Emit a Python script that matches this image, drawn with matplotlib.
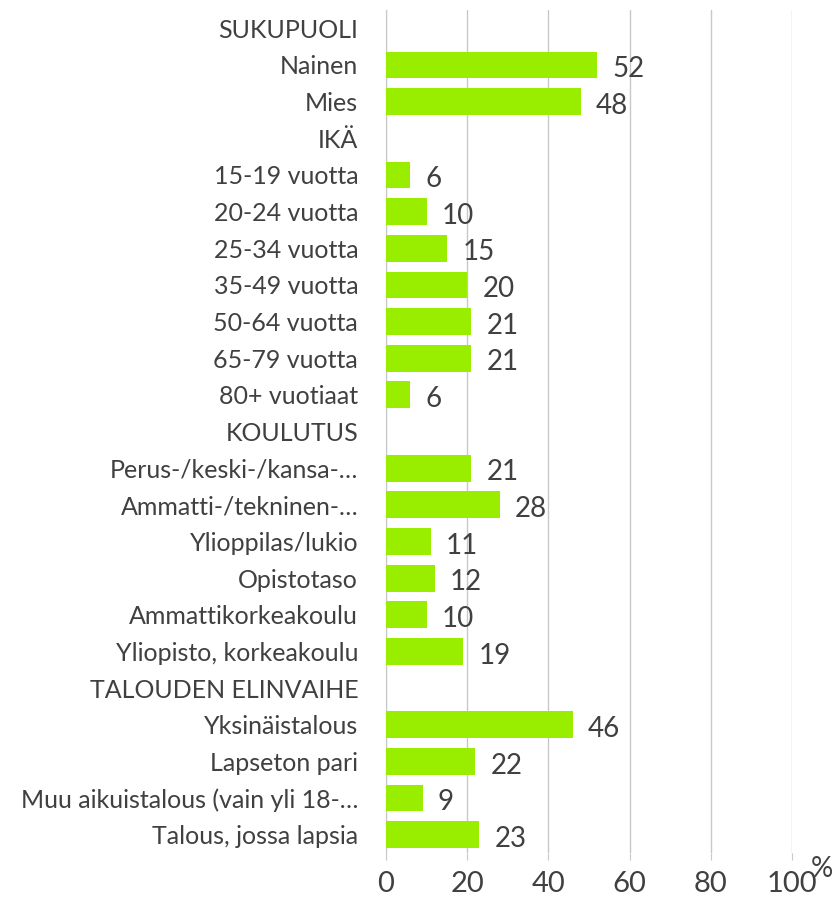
import matplotlib
matplotlib.use("Agg")
import matplotlib.pyplot as plt

categories = [
    "SUKUPUOLI", "Nainen", "Mies",
    "IKÄ", "15-19 vuotta", "20-24 vuotta", "25-34 vuotta", "35-49 vuotta",
    "50-64 vuotta", "65-79 vuotta", "80+ vuotiaat",
    "KOULUTUS", "Perus-/keski-/kansa-…", "Ammatti-/tekninen-…",
    "Ylioppilas/lukio", "Opistotaso", "Ammattikorkeakoulu", "Yliopisto, korkeakoulu",
    "TALOUDEN ELINVAIHE", "Yksinäistalous", "Lapseton pari",
    "Muu aikuistalous (vain yli 18-…", "Talous, jossa lapsia",
]
values = [
    None, 52, 48,
    None, 6, 10, 15, 20, 21, 21, 6,
    None, 21, 28, 11, 12, 10, 19,
    None, 46, 22, 9, 23,
]
xticks = [0, 20, 40, 60, 80, 100]

text_color = "#404040"
grid_color = "#C8C8C8"
bar_color = "#99EE00"

plt.rcParams["font.family"] = ["Lato", "DejaVu Sans"]

fig = plt.figure(figsize=(8.35, 9.07), dpi=100)
ax = fig.add_axes([0.4623, 0.0595, 0.4862, 0.9295])

ys = list(range(len(categories)))
for y, v in zip(ys, values):
    if v is None:
        continue
    ax.barh(y, v, height=0.73, color=bar_color, zorder=3)
    ax.annotate(str(v), xy=(v, y), xytext=(11, -3), textcoords="offset points",
                va="center", ha="left", fontsize=20, color=text_color)

ax.set_ylim(len(categories) - 0.5, -0.5)
ax.set_xlim(0, 100)
ax.set_yticks(ys)
ax.set_yticklabels(categories, fontsize=18, color=text_color)
ax.tick_params(axis="y", length=0, pad=20)
ax.set_xticks(xticks)
ax.set_xticklabels([str(t) for t in xticks], fontsize=21, color=text_color)
ax.tick_params(axis="x", length=5, color=grid_color, pad=8)

ax.grid(axis="x", color=grid_color, linewidth=1, zorder=0)
for s in ["top", "right", "bottom"]:
    ax.spines[s].set_visible(False)
ax.spines["left"].set_color(grid_color)

fig.text(0.984, 0.042, "%", fontsize=20, color=text_color, ha="center", va="center")

fig.savefig("out.png", dpi=100)
